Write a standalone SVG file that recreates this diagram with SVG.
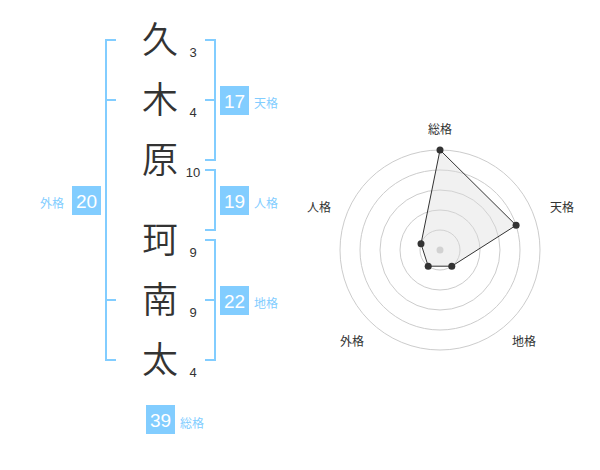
<svg xmlns="http://www.w3.org/2000/svg" width="600" height="470" viewBox="0 0 600 470">
<style>
.ch{font-family:"Noto Sans CJK JP","Noto Sans CJK SC",sans-serif;font-size:36px;font-weight:350;fill:#333;text-anchor:middle}
.st{font-family:"Liberation Sans",Arial,sans-serif;font-size:13px;fill:#333;text-anchor:middle}
.br{fill:none;stroke:#82cdff;stroke-width:2}
.bx{fill:#82cdff}
.bn{font-family:"Liberation Sans",Arial,sans-serif;font-size:19px;fill:#fff;text-anchor:middle}
.bl{font-family:"Noto Sans CJK JP","Noto Sans CJK SC",sans-serif;font-size:12px;fill:#82cdff}
.rl{font-family:"Noto Sans CJK JP","Noto Sans CJK SC",sans-serif;font-size:12px;fill:#333;text-anchor:middle}
.ring{fill:none;stroke:#ccc;stroke-width:1}
</style>
<rect width="600" height="470" fill="#fff"/>
<g id="chars">
<text class="ch" x="160" y="53">久</text>
<text class="ch" x="160" y="113">木</text>
<text class="ch" x="160" y="173">原</text>
<text class="ch" x="160" y="253">珂</text>
<text class="ch" x="160" y="313">南</text>
<text class="ch" x="160" y="373">太</text>
</g>
<g id="strokes">
<text class="st" x="193" y="57">3</text>
<text class="st" x="193" y="117">4</text>
<text class="st" x="193" y="177">10</text>
<text class="st" x="193" y="257">9</text>
<text class="st" x="193" y="317">9</text>
<text class="st" x="193" y="377">4</text>
</g>
<g id="connectors">
<path class="br" d="M116,40 H106 V360 H116 M106,100 H116 M106,300 H116"/>
<path class="br" d="M205,40 H215 V160 H205 M205,100 H215"/>
<path class="br" d="M205,170 H215 V230 H205"/>
<path class="br" d="M205,240 H215 V360 H205 M205,300 H215"/>
</g>
<g id="tenkaku">
<rect class="bx" x="220" y="86" width="29" height="29"/>
<text class="bn" x="234.5" y="107.5">17</text>
<text class="bl" x="254" y="108">天格</text>
</g>
<g id="jinkaku">
<rect class="bx" x="220" y="186" width="29" height="29"/>
<text class="bn" x="234.5" y="207.5">19</text>
<text class="bl" x="254" y="208">人格</text>
</g>
<g id="chikaku">
<rect class="bx" x="220" y="286" width="29" height="29"/>
<text class="bn" x="234.5" y="307.5">22</text>
<text class="bl" x="254" y="308">地格</text>
</g>
<g id="gaikaku">
<rect class="bx" x="72" y="186" width="29" height="29"/>
<text class="bn" x="86.5" y="207.5">20</text>
<text class="bl" x="40" y="208">外格</text>
</g>
<g id="soukaku">
<rect class="bx" x="146" y="405" width="29" height="29"/>
<text class="bn" x="160.5" y="426.5">39</text>
<text class="bl" x="180" y="428">総格</text>
</g>
<g id="radar">
<circle class="ring" cx="440" cy="250" r="20"/>
<circle class="ring" cx="440" cy="250" r="40"/>
<circle class="ring" cx="440" cy="250" r="60"/>
<circle class="ring" cx="440" cy="250" r="80"/>
<circle class="ring" cx="440" cy="250" r="100"/>
<circle cx="440" cy="250" r="3.5" fill="#ccc"/>
<polygon points="440,150 516.1,225.3 451.8,266.2 428.2,266.2 421,243.8" fill="rgba(220,220,220,0.4)" stroke="#333" stroke-width="1"/>
<g fill="#333">
<circle cx="440" cy="150" r="3.5"/>
<circle cx="516.1" cy="225.3" r="3.5"/>
<circle cx="451.8" cy="266.2" r="3.5"/>
<circle cx="428.2" cy="266.2" r="3.5"/>
<circle cx="421" cy="243.8" r="3.5"/>
</g>
<text class="rl" x="440" y="134">総格</text>
<text class="rl" x="562" y="212">天格</text>
<text class="rl" x="524" y="346">地格</text>
<text class="rl" x="352" y="346">外格</text>
<text class="rl" x="319" y="212">人格</text>
</g>
</svg>
